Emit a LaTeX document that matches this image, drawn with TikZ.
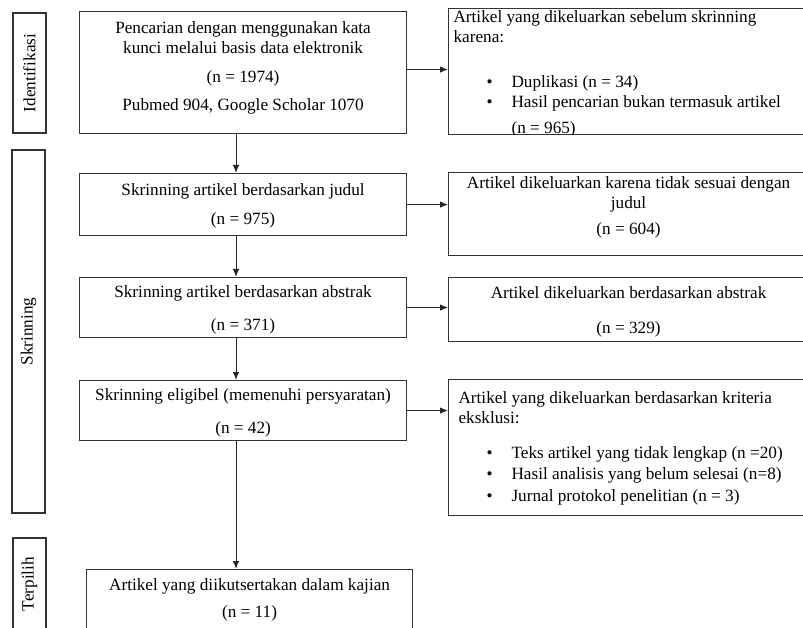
\documentclass[tikz,border=0pt]{standalone}
\usepackage{fontspec}
\setmainfont{Liberation Serif}
\usetikzlibrary{arrows.meta}

\begin{document}
\begin{tikzpicture}[x=1pt,y=-1pt,
    font=\fontsize{17.2}{20}\selectfont,
    box/.style={draw=black!80, line width=1.1pt, inner sep=0pt, anchor=north west},
    phase/.style={draw=black!80, line width=1.1pt, inner sep=0pt, rotate=90, minimum height=33pt},
    arr/.style={black!85, line width=1pt, -{Latex[length=8pt,width=6.5pt]}}]

    \clip (0,0) rectangle (803,628);

    % tahap
    \node[phase, minimum width=120pt] (ident) at (29.5,73) {Identifikasi};
    \node[phase, minimum width=363pt] (skrin) at (28.5,331.5) {Skrinning};
    \node[phase, minimum width=92pt] (pilih) at (29.5,584) {Terpilih};

    % alur utama
    \node[box] (search) at (79,11) {\parbox[c][122pt][t]{327pt}{\centering\vspace*{10pt}%
        Pencarian dengan menggunakan kata\\kunci melalui basis data elektronik\\[9pt](n = 1974)\\[8pt]Pubmed 904, Google Scholar 1070}};
    \node[box] (judul) at (79,173) {\parbox[c][62pt][t]{327pt}{\centering\vspace*{10pt}%
        Skrinning artikel berdasarkan judul\\[9pt](n = 975)}};
    \node[box] (abstrak) at (79,277) {\parbox[c][60pt][t]{327pt}{\centering\vspace*{8pt}%
        Skrinning artikel berdasarkan abstrak\\[13pt](n = 371)}};
    \node[box] (eligibel) at (79,380) {\parbox[c][60pt][t]{327pt}{\centering\vspace*{8pt}%
        Skrinning eligibel (memenuhi persyaratan)\\[13pt](n = 42)}};
    \node[box] (kajian) at (86,569) {\parbox[c][80pt][t]{326pt}{\centering\vspace*{9pt}%
        Artikel yang diikutsertakan dalam kajian\\[7pt](n = 11)}};

    % artikel dikeluarkan
    \begin{scope}
        \clip (447,7) rectangle (809,134.6);
        \node[box] (dup) at (448,8) {\parbox[c][126pt][t]{360pt}{\raggedright\leftskip=5pt\vspace*{2.3pt}%
            Artikel yang dikeluarkan sebelum skrinning\\karena:\\[25pt]
            \hspace*{33pt}\makebox[25pt][l]{\textbullet}Duplikasi (n = 34)\\[0pt]
            \hspace*{33pt}\makebox[25pt][l]{\textbullet}Hasil pencarian bukan termasuk artikel\\[6pt]
            \hspace*{58pt}(n = 965)}};
    \end{scope}
    \node[box] (tdkjudul) at (448,172) {\parbox[c][83pt][t]{360pt}{\centering\vspace*{4pt}%
        Artikel dikeluarkan karena tidak sesuai dengan\\judul\\[6pt](n = 604)}};
    \node[box] (tdkabstrak) at (448,277) {\parbox[c][64pt][t]{360pt}{\centering\vspace*{9pt}%
        Artikel dikeluarkan berdasarkan abstrak\\[15pt](n = 329)}};
    \node[box] (eksklusi) at (448,379) {\parbox[c][136pt][t]{360pt}{\raggedright\leftskip=10pt\vspace*{12pt}%
        Artikel yang dikeluarkan berdasarkan kriteria\\eksklusi:\\[15pt]
        \hspace*{28pt}\makebox[25pt][l]{\textbullet}Teks artikel yang tidak lengkap (n =20)\\[1pt]
        \hspace*{28pt}\makebox[25pt][l]{\textbullet}Hasil analisis yang belum selesai (n=8)\\[2pt]
        \hspace*{28pt}\makebox[25pt][l]{\textbullet}Jurnal protokol penelitian (n = 3)}};

    \coordinate (spine) at (236,0);

    \draw[arr] (spine |- search.south) -- (spine |- judul.north);
    \draw[arr] (spine |- judul.south) -- (spine |- abstrak.north);
    \draw[arr] (spine |- abstrak.south) -- (spine |- eligibel.north);
    \draw[arr] (spine |- eligibel.south) -- (spine |- kajian.north);

    \draw[arr] ([yshift=3pt]search.east) -- ([yshift=3pt]search.east -| dup.west);
    \draw[arr] (judul.east) -- (judul.east -| tdkjudul.west);
    \draw[arr] (abstrak.east) -- (abstrak.east -| tdkabstrak.west);
    \draw[arr] (eligibel.east) -- (eligibel.east -| eksklusi.west);

\end{tikzpicture}
\end{document}
